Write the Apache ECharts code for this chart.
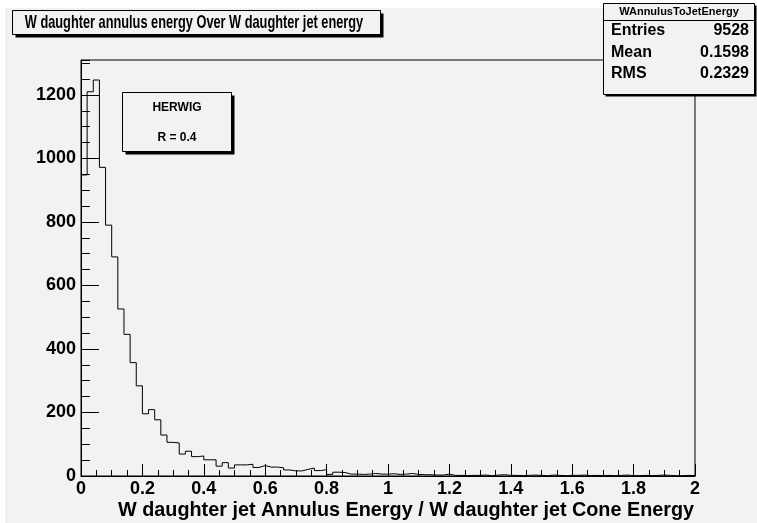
<!DOCTYPE html>
<html>
<head>
<meta charset="utf-8">
<script src="https://cdn.jsdelivr.net/npm/echarts@6/dist/echarts.min.js"></script>
<style>
  html, body { margin: 0; padding: 0; background: #ffffff; }
  #main { width: 757px; height: 523px; }
</style>
</head>
<body>
<div id="main"></div>
<script>
// histogram: 100 bins of width 0.02 from 0 to 2
var binStart = 0;
var binWidth = 0.02;
var counts = [
  948, 1210, 1247, 972, 790, 690, 526, 446, 357, 284,
  196, 209, 177, 129, 106, 104, 69, 78, 61, 63,
  51, 51, 31, 42, 25, 35, 35, 37, 27, 33,
  28, 28, 26, 19, 16, 16, 21, 25, 17, 20,
  5, 12, 11, 6, 6, 5, 6, 8, 6, 6,
  7, 5, 6, 8, 5, 4, 4, 3, 3, 6,
  2, 2, 1, 2, 2, 3, 1, 3, 4, 2,
  2, 1, 2, 3, 2, 1, 3, 2, 1, 2,
  2, 3, 1, 2, 1, 2, 1, 2, 3, 1,
  1, 2, 1, 2, 3, 2, 1, 1, 2, 1
];
var histName = "WAnnulusToJetEnergy";
var statLabels = ["Entries", "Mean", "RMS"];
var statValues = ["9528", "0.1598", "0.2329"];
var xTicks = { min: 0, max: 2, step: 0.2 };
var yTicks = { min: 0, max: 1310, step: 200, minorStep: 50 };

var FONT = "Liberation Sans, Arial, Helvetica, sans-serif";
var BG = "#f2f2f2";

// step points: left edge of each bin, plus the right edge of the last bin
var points = counts.map(function (v, i) {
  return [binStart + i * binWidth, v];
});
points.push([binStart + counts.length * binWidth, counts[counts.length - 1]]);

var chart = echarts.init(document.getElementById("main"), null, { renderer: "canvas" });

// ROOT-like box with a black drop shadow
function shadowBox(x, y, w, h, d) {
  return [
    { type: "rect", shape: { x: x + d, y: y + d, width: w, height: h }, style: { fill: "#000" }, silent: true },
    { type: "rect", shape: { x: x, y: y, width: w, height: h }, style: { fill: BG, stroke: "#000", lineWidth: 1 }, silent: true }
  ];
}

var graphics = [
  // white margin strips of the canvas
  { type: "rect", shape: { x: 0, y: 0, width: 757, height: 8 }, style: { fill: "#fff" }, silent: true, z: -10 },
  { type: "rect", shape: { x: 0, y: 0, width: 5, height: 523 }, style: { fill: "#fff" }, silent: true, z: -10 }
];
graphics = graphics.concat(shadowBox(12.5, 10.5, 368, 24, 3));
graphics.push({
  type: "text", x: 194, y: 23, scaleX: 0.69, originX: 0, originY: 0,
  style: { text: "W daughter annulus energy Over W daughter jet energy", fill: "#000",
           font: "bold 18.5px " + FONT, align: "center", verticalAlign: "middle" },
  silent: true
});
// stats box
graphics = graphics.concat(shadowBox(603.5, 3.5, 151, 91, 2));
graphics.push({ type: "line", shape: { x1: 603.5, y1: 20.5, x2: 754.5, y2: 20.5 }, style: { stroke: "#000", lineWidth: 1 }, silent: true });
graphics.push({
  type: "text", x: 679, y: 12,
  style: { text: histName, fill: "#000", font: "bold 11px " + FONT, align: "center", verticalAlign: "middle" },
  silent: true
});
statLabels.forEach(function (lab, i) {
  var yy = 31 + i * 21.5;
  graphics.push({ type: "text", x: 611, y: yy,
    style: { text: lab, fill: "#000", font: "bold 16px " + FONT, align: "left", verticalAlign: "middle" }, silent: true });
  graphics.push({ type: "text", x: 749, y: yy,
    style: { text: statValues[i], fill: "#000", font: "bold 16px " + FONT, align: "right", verticalAlign: "middle" }, silent: true });
});
// text box
graphics = graphics.concat(shadowBox(122.5, 92.5, 109, 59, 3));
graphics.push({ type: "text", x: 177, y: 108,
  style: { text: "HERWIG", fill: "#000", font: "bold 12px " + FONT, align: "center", verticalAlign: "middle" }, silent: true });
graphics.push({ type: "text", x: 177, y: 138,
  style: { text: "R = 0.4", fill: "#000", font: "bold 12px " + FONT, align: "center", verticalAlign: "middle" }, silent: true });
// x axis title, right aligned at the axis end
graphics.push({ type: "text", x: 694, y: 511,
  style: { text: "W daughter jet Annulus Energy / W daughter jet Cone Energy", fill: "#000",
           font: "bold 19.8px " + FONT, align: "right", verticalAlign: "middle" }, silent: true });

function plain(v) { return String(v); }

chart.setOption({
  animation: false,
  backgroundColor: BG,
  grid: {
    left: 81, right: 62, top: 60, bottom: 47,
    show: true, borderColor: "#000", borderWidth: 1, backgroundColor: "transparent"
  },
  xAxis: {
    type: "value",
    min: xTicks.min, max: xTicks.max, interval: xTicks.step,
    axisLine: { show: true, onZero: false, lineStyle: { color: "#000", width: 1 } },
    axisTick: { show: true, inside: true, length: 12, lineStyle: { color: "#000" } },
    minorTick: { show: true, splitNumber: 4, length: 6, lineStyle: { color: "#000" } },
    axisLabel: { color: "#000", fontFamily: FONT, fontWeight: "bold", fontSize: 18, margin: 4, formatter: plain },
    splitLine: { show: false }
  },
  yAxis: [
    {
      type: "value",
      min: yTicks.min, max: yTicks.max, interval: yTicks.step,
      axisLine: { show: true, lineStyle: { color: "#000", width: 1 } },
      axisTick: { show: true, inside: true, length: 18, lineStyle: { color: "#000" } },
      axisLabel: { color: "#000", fontFamily: FONT, fontWeight: "bold", fontSize: 18, margin: 5,
                   showMaxLabel: false, formatter: plain },
      splitLine: { show: false }
    },
    {
      type: "value", position: "left",
      min: yTicks.min, max: yTicks.max, interval: yTicks.minorStep,
      axisLine: { show: false },
      axisTick: { show: true, inside: true, length: 9, lineStyle: { color: "#000" } },
      axisLabel: { show: false },
      splitLine: { show: false }
    }
  ],
  series: [
    {
      name: histName,
      type: "line",
      step: "end",
      data: points,
      symbol: "none",
      lineStyle: { color: "#000", width: 1 },
      z: 3
    }
  ],
  graphic: graphics
});
</script>
</body>
</html>
